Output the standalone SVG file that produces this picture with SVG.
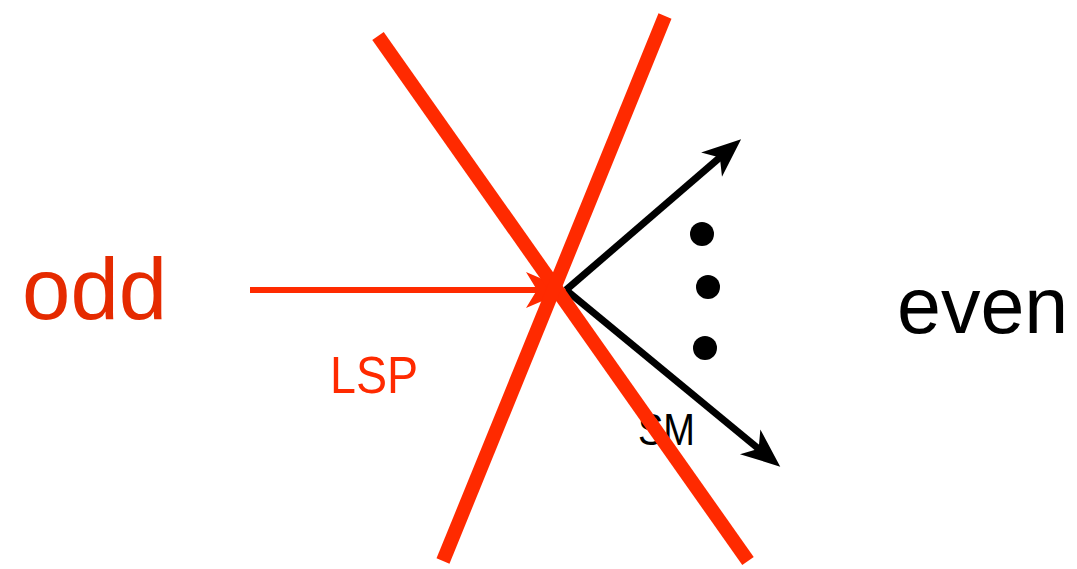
<svg xmlns="http://www.w3.org/2000/svg" width="1077" height="569" viewBox="0 0 1077 569">
<style>
.red{stroke:#FF2A00;fill:none}
.blk{stroke:#000;fill:none;stroke-width:7}
.lbl{font-family:"Liberation Sans",Arial,sans-serif}
</style>
<defs>
<marker id="hb" markerUnits="userSpaceOnUse" markerWidth="60" markerHeight="60" viewBox="-40 -20 60 40" refX="0" refY="0" orient="auto" overflow="visible">
<path d="M12,0 L-27,-16 L-16,0 L-27,16 Z" fill="#000"/>
</marker>
<marker id="hr" markerUnits="userSpaceOnUse" markerWidth="60" markerHeight="60" viewBox="-45 -20 60 40" refX="0" refY="0" orient="auto" overflow="visible">
<path d="M8,0 L-34,-18 L-23,0 L-34,18 Z" fill="#FF2A00"/>
</marker>
</defs>
<g id="odd"><text class="lbl" x="22" y="319" font-size="87" fill="#E52A00">odd</text></g>
<g id="even"><text class="lbl" x="897" y="333" font-size="79" fill="#000">even</text></g>
<g id="lsp"><text class="lbl" x="330" y="393" font-size="52" fill="#FF2A00" textLength="88" lengthAdjust="spacingAndGlyphs">LSP</text></g>
<g id="sm"><text class="lbl" x="638" y="445" font-size="44" fill="#000" textLength="57" lengthAdjust="spacingAndGlyphs">SM</text></g>
<g id="dots">
<circle cx="702" cy="234" r="12" fill="#000"/>
<circle cx="708" cy="287" r="12" fill="#000"/>
<circle cx="705" cy="348" r="12" fill="#000"/>
</g>
<g id="connectors">
<line class="red" x1="250" y1="290" x2="560" y2="290" stroke-width="6" marker-end="url(#hr)"/>
<line class="blk" x1="566" y1="290" x2="732" y2="147" marker-end="url(#hb)"/>
<line class="blk" x1="566" y1="290" x2="771" y2="459" marker-end="url(#hb)"/>
<line class="red" x1="378" y1="36" x2="748" y2="561" stroke-width="14"/>
<line class="red" x1="665" y1="16" x2="443" y2="561" stroke-width="14"/>
</g>
</svg>
